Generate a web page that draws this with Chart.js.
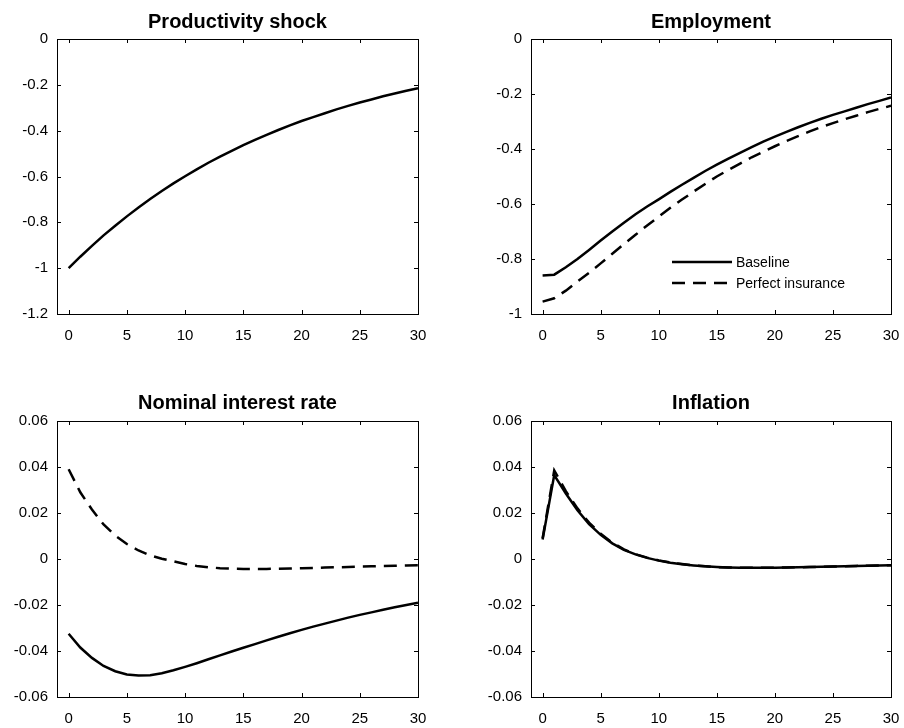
<!DOCTYPE html>
<html>
<head>
<meta charset="utf-8">
<script src="https://cdn.jsdelivr.net/npm/chart.js@4.4.1/dist/chart.umd.min.js"></script>
<style>
  body { margin: 0; background: #fff; }
  #wrap { position: relative; width: 904px; height: 728px; background: #fff; }
  #wrap canvas { position: absolute; }
</style>
</head>
<body>
<div id="wrap"></div>
<script>
// quarters after the shock
const periods = [0,1,2,3,4,5,6,7,8,9,10,11,12,13,14,15,16,17,18,19,20,21,22,23,24,25,26,27,28,29,30]

const productivity = [-1,-0.95,-0.903,-0.857,-0.815,-0.774,-0.735,-0.698,-0.663,-0.63,-0.599,-0.569,-0.54,-0.513,-0.488,-0.463,
  -0.44,-0.418,-0.397,-0.377,-0.358,-0.341,-0.324,-0.307,-0.292,-0.277,-0.264,-0.25,-0.238,-0.226,-0.215]

const employmentBase = [-0.86,-0.857,-0.83,-0.8,-0.767,-0.733,-0.7,-0.668,-0.637,-0.609,-0.583,-0.556,-0.53,-0.505,-0.48,-0.457,
  -0.435,-0.414,-0.393,-0.373,-0.355,-0.338,-0.321,-0.305,-0.29,-0.276,-0.263,-0.25,-0.237,-0.225,-0.213]
const employmentPerfect = [-0.955,-0.943,-0.915,-0.882,-0.85,-0.816,-0.781,-0.746,-0.712,-0.678,-0.646,-0.614,-0.584,-0.555,-0.527,-0.5,
  -0.476,-0.453,-0.43,-0.41,-0.39,-0.371,-0.353,-0.336,-0.32,-0.306,-0.292,-0.279,-0.266,-0.254,-0.243]

const rateBase = [-0.0325,-0.0385,-0.043,-0.0465,-0.0488,-0.0502,-0.0507,-0.0505,-0.0497,-0.0484,-0.0469,-0.0453,-0.0436,-0.0419,-0.0402,-0.0386,
  -0.037,-0.0354,-0.0338,-0.0323,-0.0308,-0.0294,-0.0281,-0.0268,-0.0255,-0.0243,-0.0232,-0.0221,-0.021,-0.02,-0.019]
const ratePerfect = [0.039,0.029,0.0215,0.015,0.0102,0.0065,0.0037,0.0016,0.0001,-0.001,-0.0022,-0.003,-0.0036,-0.004,-0.0042,-0.0043,
  -0.0043,-0.0043,-0.0042,-0.0041,-0.004,-0.0039,-0.0037,-0.0036,-0.0035,-0.0033,-0.0032,-0.003,-0.0029,-0.0028,-0.0027]

const inflationBase = [0.0085,0.0365,0.0285,0.0212,0.0152,0.0105,0.0068,0.004,0.002,0.0005,-0.0007,-0.0016,-0.0023,-0.0028,-0.0032,-0.0035,
  -0.0037,-0.0038,-0.0038,-0.0038,-0.0038,-0.0037,-0.0036,-0.0035,-0.0034,-0.0033,-0.0032,-0.003,-0.0029,-0.0028,-0.0027]
const inflationPerfect = [0.009,0.0385,0.0295,0.022,0.0158,0.011,0.0071,0.0042,0.0021,0.0006,-0.0006,-0.0015,-0.0022,-0.0028,-0.0032,-0.0035,
  -0.0037,-0.0038,-0.0038,-0.0038,-0.0038,-0.0037,-0.0036,-0.0035,-0.0034,-0.0033,-0.0032,-0.003,-0.0029,-0.0028,-0.0027]

const titles = ['Productivity shock', 'Employment', 'Nominal interest rate', 'Inflation']
const seriesNames = ['Baseline', 'Perfect insurance']
const xTicks = [0,5,10,15,20,25,30]
const yTicksShock = [0,-0.2,-0.4,-0.6,-0.8,-1,-1.2]
const yTicksEmployment = [0,-0.2,-0.4,-0.6,-0.8,-1]
const yTicksSmall = [0.06,0.04,0.02,0,-0.02,-0.04,-0.06]

const FONT = '"Liberation Sans", Arial, Helvetica, sans-serif'
const DASH = [13, 8]

// box, inward ticks, title and the little legend, matlab style
const framePlugin = {
    id: 'frame',
    afterDraw(chart, args, opts){
        const {ctx, chartArea: a, scales} = chart
        const len = 4
        ctx.save()
        ctx.strokeStyle = '#000'
        ctx.lineWidth = 1
        ctx.beginPath()
        scales.x.ticks.forEach(t => {
            const px = Math.round(scales.x.getPixelForValue(t.value)) + 0.5
            ctx.moveTo(px, a.bottom); ctx.lineTo(px, a.bottom - len)
            ctx.moveTo(px, a.top); ctx.lineTo(px, a.top + len)
        })
        scales.y.ticks.forEach(t => {
            const py = Math.round(scales.y.getPixelForValue(t.value)) + 0.5
            ctx.moveTo(a.left, py); ctx.lineTo(a.left + len, py)
            ctx.moveTo(a.right, py); ctx.lineTo(a.right - len, py)
        })
        ctx.stroke()
        ctx.strokeRect(Math.round(a.left) + 0.5, Math.round(a.top) + 0.5,
            Math.round(a.right - a.left), Math.round(a.bottom - a.top))

        ctx.fillStyle = '#000'
        ctx.font = 'bold 20px ' + FONT
        ctx.textAlign = 'center'
        ctx.textBaseline = 'middle'
        ctx.fillText(opts.title, (a.left + a.right) / 2, a.top - opts.titleGap)

        if(opts.legend){
            ctx.font = '14px ' + FONT
            ctx.textAlign = 'left'
            chart.data.datasets.forEach((ds, i) => {
                const y = a.bottom - 52 + i * 21
                const x0 = a.right - 219
                ctx.lineWidth = 2.5
                ctx.setLineDash(ds.borderDash || [])
                ctx.beginPath()
                ctx.moveTo(x0, y); ctx.lineTo(x0 + 60, y)
                ctx.stroke()
                ctx.setLineDash([])
                ctx.fillText(ds.label, x0 + 64, y + 1)
            })
        }
        ctx.restore()
    }
}

function points(values){
    return periods.map((p, i) => ({x: p, y: values[i]}))
}

function lineSet(label, values, dashed){
    return {
        label: label,
        data: points(values),
        borderColor: '#000',
        borderWidth: 2.5,
        borderDash: dashed ? DASH : [],
        pointRadius: 0,
        tension: 0,
        fill: false,
        order: dashed ? 0 : 1
    }
}

const panels = [
    {left: 0, top: 0, area: {l: 57, r: 418, t: 39, b: 314}, title: titles[0], gap: 17,
        yTicks: yTicksShock, sets: [lineSet(seriesNames[0], productivity, false)]},
    {left: 452, top: 0, area: {l: 79, r: 439, t: 39, b: 314}, title: titles[1], gap: 17, legend: true,
        yTicks: yTicksEmployment, sets: [lineSet(seriesNames[0], employmentBase, false), lineSet(seriesNames[1], employmentPerfect, true)]},
    {left: 0, top: 364, area: {l: 57, r: 418, t: 57, b: 333}, title: titles[2], gap: 18,
        yTicks: yTicksSmall, sets: [lineSet(seriesNames[0], rateBase, false), lineSet(seriesNames[1], ratePerfect, true)]},
    {left: 452, top: 364, area: {l: 79, r: 439, t: 57, b: 333}, title: titles[3], gap: 18,
        yTicks: yTicksSmall, sets: [lineSet(seriesNames[0], inflationBase, false), lineSet(seriesNames[1], inflationPerfect, true)]}
]

const W = 452, H = 364
const wrap = document.querySelector('#wrap')

function noPadding(s){
    s.paddingLeft = 0
    s.paddingRight = 0
    s.paddingTop = 0
    s.paddingBottom = 0
}

panels.forEach(p => {
    const canvas = document.createElement('canvas')
    canvas.width = W
    canvas.height = H
    canvas.style.left = p.left + 'px'
    canvas.style.top = p.top + 'px'
    wrap.append(canvas)
    const yMin = Math.min(...p.yTicks), yMax = Math.max(...p.yTicks)

    new Chart(canvas, {
        type: 'line',
        data: {datasets: p.sets},
        plugins: [framePlugin],
        options: {
            responsive: false,
            animation: false,
            devicePixelRatio: 1,
            layout: {padding: {left: 0, top: p.area.t, right: W - p.area.r, bottom: 0}},
            plugins: {
                legend: {display: false},
                tooltip: {enabled: false},
                frame: {title: p.title, titleGap: p.gap, legend: !!p.legend}
            },
            scales: {
                x: {
                    type: 'linear', min: -1, max: 30,
                    grid: {display: false, drawTicks: false}, border: {display: false},
                    afterBuildTicks: s => { s.ticks = xTicks.map(v => ({value: v})) },
                    afterFit: s => { s.height = H - p.area.b; noPadding(s) },
                    ticks: {color: '#000', padding: 13, maxRotation: 0, autoSkip: false,
                        font: {family: FONT, size: 15}, callback: v => String(v)}
                },
                y: {
                    type: 'linear', min: yMin, max: yMax,
                    grid: {display: false, drawTicks: false}, border: {display: false},
                    afterBuildTicks: s => { s.ticks = p.yTicks.map(v => ({value: v})) },
                    afterFit: s => { s.width = p.area.l; noPadding(s) },
                    ticks: {color: '#000', padding: 9, autoSkip: false,
                        font: {family: FONT, size: 15}, callback: v => String(v)}
                }
            }
        }
    })
})
</script>
</body>
</html>
